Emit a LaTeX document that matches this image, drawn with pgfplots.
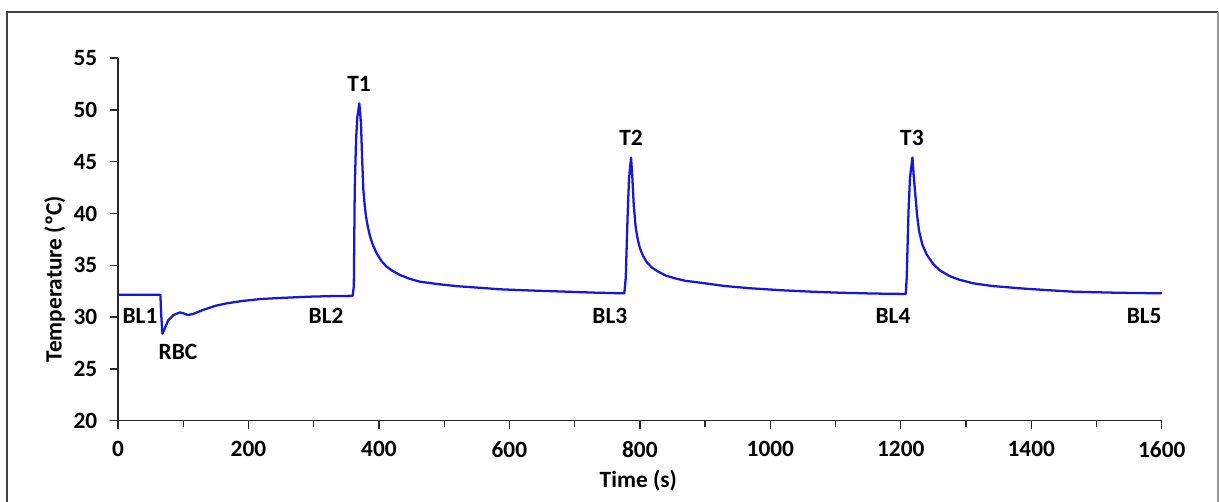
\documentclass[border=0pt]{standalone}
\usepackage{pgfplots}
\pgfplotsset{compat=1.18}
\usepackage{fontspec}
\setmainfont{Carlito}
\definecolor{curve}{RGB}{22,22,220}
\definecolor{axgray}{RGB}{40,40,40}
\begin{document}
\begin{tikzpicture}
\useasboundingbox (0pt,0pt) rectangle (914.25pt,376.5pt);
\draw[line width=0.8pt, black!75] (5.25pt,-20pt) -- (5.25pt,367.5pt) -- (913.5pt,367.5pt);
\draw[line width=0.8pt, black!40] (913.5pt,367.5pt) -- (913.5pt,-20pt);
\begin{axis}[
  at={(88.5pt,60.975pt)}, anchor=south west,
  scale only axis, width=782.8pt, height=272pt,
  xmin=0, xmax=1600, ymin=20, ymax=55,
  axis x line*=bottom, axis y line*=left,
  axis line style={line width=1pt, axgray},
  xtick={0,200,...,1600}, minor xtick={100,300,...,1500},
  ytick={20,25,...,55},
  tick align=outside, tick pos=left,
  major tick length=6pt, minor tick length=4.5pt,
  every tick/.style={line width=1pt, axgray},
  /pgf/number format/assume math mode=true,
  /pgf/number format/1000 sep={},
  ticklabel style={font=\fontsize{17.5}{19}\selectfont\bfseries, text=black},
  yticklabel style={xshift=-6pt},
  xticklabel style={yshift=-6pt},
  xlabel={Time (s)}, ylabel={Temperature (ºC)},
  label style={font=\fontsize{17.5}{19}\selectfont\bfseries},
  xlabel style={at={(axis description cs:0.4985,-0.165)}, anchor=center},
  ylabel style={at={(axis description cs:-0.0605,0.39)}, anchor=center},
  clip=false,
]
\addplot[curve, line width=1.7pt, line join=round] coordinates {
(0,32.15) (20,32.15) (40,32.15) (65,32.15) (66,30.5) (68,28.4) (71,28.8)
(77,29.7) (85,30.2) (95,30.45) (101,30.35) (107,30.2) (115,30.3) (130,30.68)
(150,31.1) (167,31.33) (190,31.55) (218,31.74) (250,31.85) (294,31.97)
(330,32.03) (359.8,32.05) (361.5,33) (362.9,42.3) (364.9,47.1) (366.9,49.3)
(369.9,50.63) (372.5,48.7) (374.1,45.5) (376.1,42.3) (378,40.9) (380.2,39.7)
(383,38.7) (386.3,37.8) (391,36.9) (396.6,36.15) (404,35.4) (411.9,34.86)
(421,34.45) (432.3,34.06) (447,33.7) (463,33.41) (493.6,33.16) (520,32.98)
(550,32.85) (585.6,32.68) (640,32.55) (688,32.45) (730,32.36) (776.2,32.29)
(778.3,33.74) (781.4,40.17) (783.4,43.39) (786.5,45.4) (788.5,43.4) (790.6,40.8)
(793.7,38.6) (797,37.4) (800.3,36.6) (805,35.9) (810.5,35.3) (818,34.8)
(828.3,34.38) (840,34.0) (853.9,33.74) (870,33.5) (894.8,33.3) (930,33.0)
(969,32.78) (1020,32.58) (1060,32.46) (1107,32.35) (1160,32.27) (1207.5,32.23)
(1209,33.7) (1211.8,40.2) (1214,43.4) (1217.8,45.4) (1219.8,43.6) (1222,42.0)
(1225,39.8) (1228,38.3) (1233,37.0) (1240,36.0) (1250,35.1) (1260,34.5)
(1275,33.95) (1290,33.6) (1311,33.26) (1340,33.0) (1388,32.75) (1430,32.58)
(1464.5,32.45) (1530,32.35) (1600,32.29)
};
\begin{scope}[every node/.style={font=\fontsize{17.5}{19}\selectfont\bfseries, text=black}]
\node at (axis cs:33.7,30.1) {BL1};
\node at (axis cs:92,26.63) {RBC};
\node at (axis cs:319,30.1) {BL2};
\node at (axis cs:369.5,52.49) {T1};
\node at (axis cs:786.5,47.28) {T2};
\node at (axis cs:754,30.1) {BL3};
\node at (axis cs:1217,47.28) {T3};
\node at (axis cs:1188,30.1) {BL4};
\node at (axis cs:1573,30.1) {BL5};
\end{scope}
\end{axis}
\end{tikzpicture}
\end{document}
